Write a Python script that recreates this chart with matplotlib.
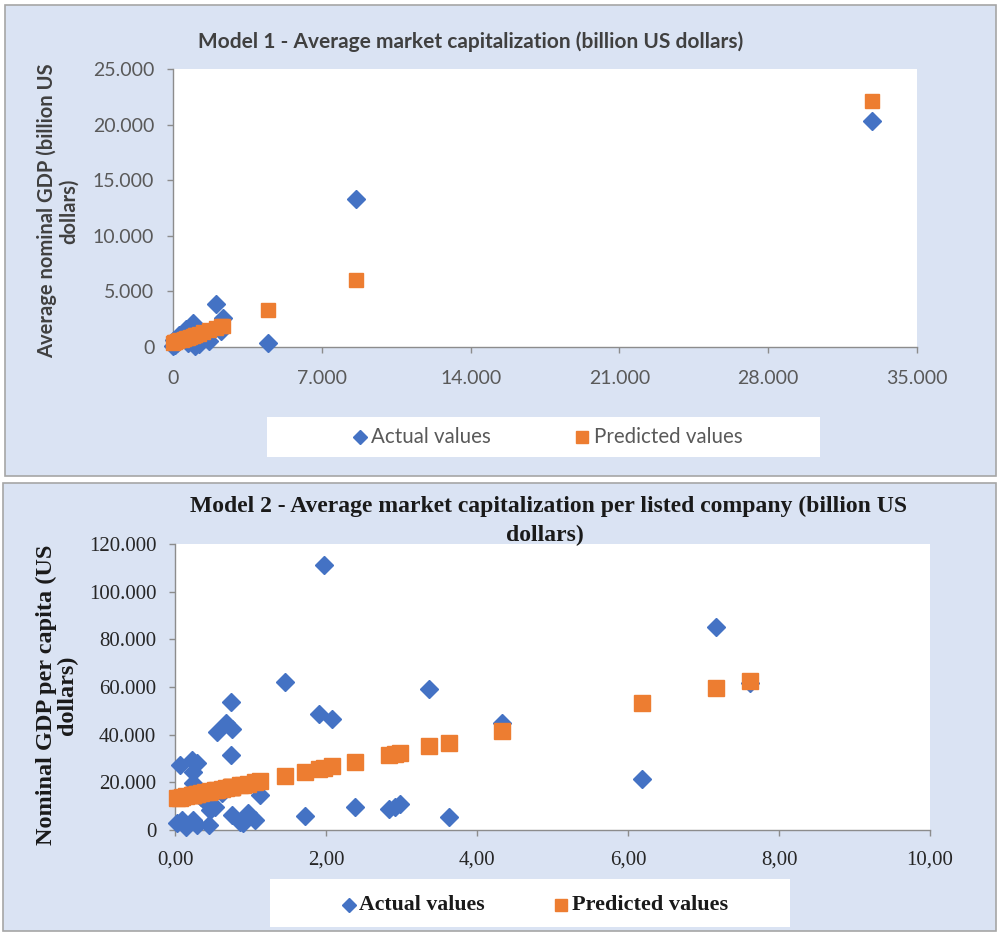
import matplotlib
matplotlib.use("Agg")
import matplotlib.pyplot as plt
from matplotlib.patches import Rectangle
from matplotlib.lines import Line2D

W, H = 998, 933
BLUE = "#4472c4"
ORANGE = "#ed7d31"
PANEL = "#dae3f3"

# ---- Model 1 data (billion US dollars)
cap1 = [32860, 8600, 4480, 2330, 2280, 2040, 1700, 1400, 1200, 1040, 1030, 960,
        800, 700, 600, 500, 400, 300, 200, 100, 50, 20]
actual1 = [20330, 13340, 360, 2600, 1470, 3860, 570, 1000, 300, 1900, 120, 2120,
           900, 400, 1610, 1200, 700, 1100, 400, 200, 600, 50]
pred1 = [22130, 6070, 3290, 1930, 1890, 1740, 1510, 1310, 1180, 1070, 1065, 1020,
         915, 850, 780, 715, 650, 585, 515, 450, 420, 400]
xticks1 = [0, 7000, 14000, 21000, 28000, 35000]
xlabels1 = ["0", "7.000", "14.000", "21.000", "28.000", "35.000"]
yticks1 = [0, 5000, 10000, 15000, 20000, 25000]
ylabels1 = ["0", "5.000", "10.000", "15.000", "20.000", "25.000"]

# ---- Model 2 data (per listed company)
cap2 = [7.62, 7.16, 6.18, 4.33, 3.63, 3.37, 2.98, 2.91, 2.83, 2.38, 2.08, 1.97,
        1.91, 1.72, 1.46, 1.13, 1.06, 0.97, 0.90, 0.86, 0.75, 0.74, 0.74, 0.75,
        0.68, 0.56, 0.53, 0.46, 0.45, 0.40, 0.29, 0.29, 0.24, 0.24, 0.23, 0.24,
        0.15, 0.09, 0.06, 0.02, 0.35, 0.62]
actual2 = [61500, 85200, 21600, 45000, 5600, 59200, 10900, 9800, 8800, 9500, 46700, 111200,
           48500, 6000, 62000, 14700, 4200, 7000, 3000, 3500, 42300, 53600, 31500, 6300,
           44800, 41000, 9800, 8400, 2100, 12000, 28200, 2100, 19600, 24500, 29400, 4200,
           1400, 4200, 27300, 3000, 14000, 15500]
pred2 = [62600, 59600, 53200, 41400, 36700, 35200, 32400, 32000, 31500, 28500, 26700, 26000,
         25500, 24200, 22700, 20500, 20100, 19500, 19000, 18800, 18100, 18000, 18000, 18100,
         17600, 16800, 16600, 16200, 16100, 15800, 15100, 15100, 14800, 14800, 14700, 14800,
         14200, 13800, 13600, 13300, 15500, 17200]
xticks2 = [0, 2, 4, 6, 8, 10]
xlabels2 = ["0,00", "2,00", "4,00", "6,00", "8,00", "10,00"]
yticks2 = [0, 20000, 40000, 60000, 80000, 100000, 120000]
ylabels2 = ["0", "20.000", "40.000", "60.000", "80.000", "100.000", "120.000"]


def fx(px):
    return px / W


def fy(py):
    return 1 - py / H


def add_axes(fig, left, top, right, bottom):
    ax = fig.add_axes([fx(left), fy(bottom), (right - left) / W, (bottom - top) / H])
    ax.set_zorder(5)
    return ax


def style_axes(ax, color, font, size, xpad, ypad):
    for s in ["top", "right"]:
        ax.spines[s].set_visible(False)
    for s in ["left", "bottom"]:
        ax.spines[s].set_color("#8c8c8c")
        ax.spines[s].set_linewidth(1.0)
    ax.tick_params(axis="both", direction="out", length=4.5, width=1.0, color="#8c8c8c",
                   labelcolor=color, labelsize=size)
    ax.tick_params(axis="x", pad=xpad)
    ax.tick_params(axis="y", pad=ypad)
    for lab in ax.get_xticklabels() + ax.get_yticklabels():
        lab.set_fontfamily(font)


fig = plt.figure(figsize=(W / 100, H / 100), dpi=100)
fig.patch.set_facecolor("white")

# panel backgrounds
fig.patches.append(Rectangle((fx(5), fy(476)), 991 / W, 471 / H, transform=fig.transFigure,
                             facecolor=PANEL, edgecolor="#a6a6a6", lw=1.2, zorder=0))
fig.patches.append(Rectangle((fx(3), fy(931)), 993 / W, 448 / H, transform=fig.transFigure,
                             facecolor=PANEL, edgecolor="#a6a6a6", lw=1.2, zorder=0))

# ---------------- Model 1 ----------------
sans = "Lato"
ax1 = add_axes(fig, 173, 69, 917, 347)
ax1.plot(cap1, actual1, linestyle="none", marker="D", ms=9.5, color=BLUE, mec=BLUE, zorder=3)
ax1.plot(cap1, pred1, linestyle="none", marker="s", ms=10.5, color=ORANGE, mec=ORANGE, zorder=4)
ax1.set_xlim(0, 35000)
ax1.set_ylim(0, 25000)
ax1.set_xticks(xticks1)
ax1.set_xticklabels(xlabels1)
ax1.set_yticks(yticks1)
ax1.set_yticklabels(ylabels1)
ax1.set_facecolor("white")
for c in ax1.lines:
    c.set_clip_on(False)
style_axes(ax1, "#595959", sans, 14, 12, 9)

fig.text(fx(471), fy(42), "Model 1 - Average market capitalization (billion US dollars)",
         ha="center", va="center", fontsize=15, fontweight="bold", color="#404040",
         fontfamily=sans, zorder=6)
fig.text(fx(58), fy(211), "Average nominal GDP (billion US\ndollars)", rotation=90,
         ha="center", va="center", multialignment="center", fontsize=14.5, fontweight="bold",
         color="#404040", fontfamily=sans, linespacing=1.1, zorder=6)

# legend 1
fig.patches.append(Rectangle((fx(267), fy(457)), 553 / W, 40 / H, transform=fig.transFigure,
                             facecolor="white", edgecolor="none", zorder=1))
fig.lines.append(Line2D([fx(360)], [fy(437)], transform=fig.transFigure, marker="D", ms=7,
                        color=BLUE, linestyle="none", zorder=6))
fig.text(fx(371), fy(437), "Actual values", ha="left", va="center", fontsize=14.8,
         color="#595959", fontfamily=sans, zorder=6)
fig.lines.append(Line2D([fx(582)], [fy(437)], transform=fig.transFigure, marker="s", ms=8,
                        color=ORANGE, linestyle="none", zorder=6))
fig.text(fx(594), fy(437), "Predicted values", ha="left", va="center", fontsize=14.8,
         color="#595959", fontfamily=sans, zorder=6)

# ---------------- Model 2 ----------------
serif = "Liberation Serif"
ax2 = add_axes(fig, 175, 544, 930, 830)
ax2.plot(cap2, actual2, linestyle="none", marker="D", ms=9.5, color=BLUE, mec=BLUE, zorder=3)
ax2.plot(cap2, pred2, linestyle="none", marker="s", ms=11, color=ORANGE, mec=ORANGE, zorder=4)
ax2.set_xlim(0, 10)
ax2.set_ylim(0, 120000)
ax2.set_xticks(xticks2)
ax2.set_xticklabels(xlabels2)
ax2.set_yticks(yticks2)
ax2.set_yticklabels(ylabels2)
ax2.set_facecolor("white")
for c in ax2.lines:
    c.set_clip_on(False)
style_axes(ax2, "#262626", serif, 15, 10, 9)

fig.text(fx(548), fy(506),
         "Model 2 - Average market capitalization per listed company (billion US",
         ha="center", va="center", fontsize=17, fontweight="bold", color="#1a1a1a",
         fontfamily=serif, zorder=6)
fig.text(fx(545), fy(535), "dollars)", ha="center", va="center", fontsize=17,
         fontweight="bold", color="#1a1a1a", fontfamily=serif, zorder=6)
fig.text(fx(57), fy(695), "Nominal GDP per capita (US\ndollars)", rotation=90,
         ha="center", va="center", multialignment="center", fontsize=17.5, fontweight="bold",
         color="#1a1a1a", fontfamily=serif, linespacing=1.0, zorder=6)

# legend 2
fig.patches.append(Rectangle((fx(270), fy(927)), 520 / W, 48 / H, transform=fig.transFigure,
                             facecolor="white", edgecolor="none", zorder=1))
fig.lines.append(Line2D([fx(349)], [fy(905)], transform=fig.transFigure, marker="D", ms=7.5,
                        color=BLUE, linestyle="none", zorder=6))
fig.text(fx(359), fy(905), "Actual values", ha="left", va="center", fontsize=15.7,
         fontweight="bold", color="#1a1a1a", fontfamily=serif, zorder=6)
fig.lines.append(Line2D([fx(561)], [fy(905)], transform=fig.transFigure, marker="s", ms=8.5,
                        color=ORANGE, linestyle="none", zorder=6))
fig.text(fx(572), fy(905), "Predicted values", ha="left", va="center", fontsize=16,
         fontweight="bold", color="#1a1a1a", fontfamily=serif, zorder=6)

fig.savefig("out.png", dpi=100)
